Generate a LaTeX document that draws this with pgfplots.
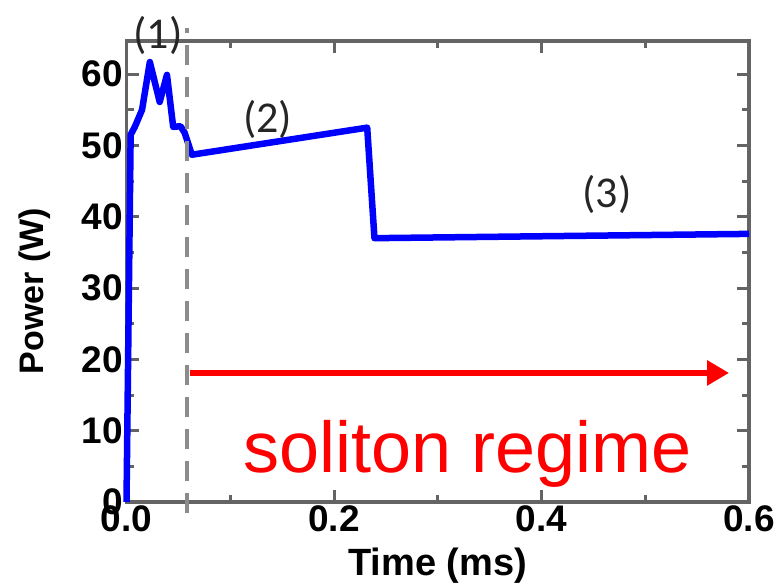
\documentclass[border=0pt]{standalone}
\usepackage{pgfplots}
\pgfplotsset{compat=1.18}
\usetikzlibrary{arrows.meta}
\usepackage{fontspec}
\setmainfont{Liberation Sans}
\newfontfamily\calib{Carlito}
\definecolor{axgray}{RGB}{100,100,100}
\definecolor{dashgray}{RGB}{140,140,140}
\begin{document}
\begin{tikzpicture}
\begin{axis}[
    name=ax,
    scale only axis,
    width=622.5pt, height=461pt,
    xmin=0, xmax=0.6, ymin=0, ymax=64.65,
    xtick={0,0.2,0.4,0.6},
    xticklabels={0.0,0.2,0.4,0.6},
    minor xtick={0.1,0.3,0.5},
    ytick={0,10,...,60},
    minor ytick={5,15,...,55},
    tick align=inside,
    xtick pos=both, ytick pos=both,
    major tick length=12pt, minor tick length=7pt,
    axis line style={draw=axgray, line width=3.5pt},
    every tick/.style={draw=axgray, line width=3pt},
    tick label style={font=\fontsize{37}{37}\selectfont\bfseries},
    /pgf/number format/assume math mode=true,
    xlabel={Time (ms)}, ylabel={Power (W)},
    xlabel style={font=\fontsize{38}{38}\selectfont\bfseries, yshift=-9pt},
    ylabel style={font=\fontsize{34}{34}\selectfont\bfseries,
      at={(axis description cs:-0.147,0.457)}, anchor=center},
    clip=false,
  ]
  % measured power trace
  \addplot[blue, line width=6.5pt, line join=round] coordinates {
    (0.000,0) (0.004,51.5) (0.008,52.6) (0.015,55) (0.0225,61.7)
    (0.032,56.1) (0.039,59.9) (0.045,52.6) (0.052,52.7) (0.056,51.8)
    (0.063,48.7) (0.232,52.5) (0.239,37.0) (0.6,37.6)
  };
  % boundary of stage (1)
  \addplot[dashgray, line width=4pt, dash pattern=on 20pt off 12pt] coordinates {(0.0582,-1.5) (0.0582,66.5)};
  % soliton regime arrow
  \addplot[red, line width=6.5pt, -{Triangle[length=22pt,width=24pt]}] coordinates {(0.061,18.1) (0.5808,18.1)};
  \node[text=black!85, font=\fontsize{44}{44}\selectfont\calib] at (axis cs:0.0303,65.4) {(1)};
  \node[text=black!85, font=\fontsize{44}{44}\selectfont\calib] at (axis cs:0.1362,53.7) {(2)};
  \node[text=black!85, font=\fontsize{44}{44}\selectfont\calib] at (axis cs:0.463,43.1) {(3)};
  \node[red, anchor=base, font=\fontsize{72}{72}\selectfont] at (axis cs:0.3287,4.2) {soliton regime};
\end{axis}
\pgfresetboundingbox
\useasboundingbox ([xshift=-126.5pt,yshift=-80pt]ax.south west) rectangle ([xshift=33pt,yshift=41pt]ax.north east);
\end{tikzpicture}
\end{document}
